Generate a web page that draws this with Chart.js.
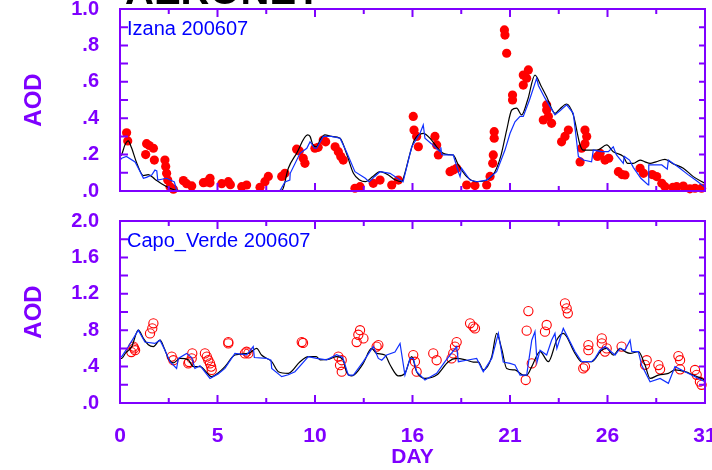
<!DOCTYPE html>
<html>
<head>
<meta charset="utf-8">
<script src="https://cdn.jsdelivr.net/npm/chart.js@4/dist/chart.umd.min.js"></script>
<style>
  html, body { margin: 0; padding: 0; background: #fff; }
  #wrap { position: relative; width: 712px; height: 470px; overflow: hidden; background: #fff; }
  #wrap canvas { position: absolute; left: 0; }
</style>
</head>
<body>
<div id="wrap">
  <canvas id="topChart" width="712" height="205" style="top:0"></canvas>
  <canvas id="bottomChart" width="712" height="265" style="top:205px"></canvas>
</div>
<script>
// tick labels
var xTickLabels = ["0", "5", "10", "16", "21", "26", "31"];
var izanaYTicks = [".0", ".2", ".4", ".6", ".8", "1.0"];
var capoYTicks = [".0", ".4", ".8", "1.2", "1.6", "2.0"];

// Izana 200607 : [day, aod]
var izanaObs = [
  [0.35,0.32],[0.41,0.275],[1.36,0.20],[1.41,0.26],[1.55,0.25],[1.77,0.235],[1.82,0.17],
  [2.38,0.17],[2.42,0.135],[2.47,0.097],[2.53,0.06],[2.65,0.024],[2.83,0.01],[3.36,0.057],
  [3.53,0.04],[3.8,0.028],[4.42,0.046],[4.6,0.05],[4.77,0.07],[4.77,0.045],[5.39,0.04],
  [5.74,0.051],[5.85,0.035],[6.45,0.024],[6.71,0.033],[7.42,0.02],[7.68,0.051],[7.86,0.08],
  [8.57,0.08],[8.74,0.097],[9.36,0.23],[9.5,0.22],[9.71,0.18],[9.8,0.152],[10.33,0.235],
  [10.5,0.24],[10.77,0.28],[10.9,0.27],[11.4,0.243],[11.57,0.216],[11.7,0.19],[11.83,0.17],
  [12.45,0.015],[12.72,0.024],[13.42,0.042],[13.78,0.06],[14.4,0.033],[14.75,0.06],
  [15.54,0.41],[15.58,0.335],[15.72,0.30],[15.81,0.243],[16.69,0.30],[16.78,0.253],[16.87,0.198],
  [17.49,0.106],[17.66,0.115],[17.84,0.125],[18.37,0.033],[18.81,0.03],[19.43,0.033],
  [19.61,0.08],[19.75,0.152],[19.78,0.198],[19.83,0.29],[19.83,0.326],[20.37,0.885],
  [20.4,0.857],[20.49,0.757],[20.8,0.527],[20.8,0.50],[21.37,0.582],[21.37,0.637],[21.55,0.62],
  [21.64,0.665],[22.43,0.39],[22.61,0.445],[22.61,0.473],[22.7,0.41],[22.87,0.372],[23.4,0.27],
  [23.58,0.30],[23.76,0.335],[24.38,0.16],[24.46,0.235],[24.64,0.26],[24.64,0.335],[24.73,0.30],
  [25.3,0.19],[25.44,0.207],[25.7,0.17],[25.9,0.18],[26.41,0.106],[26.6,0.09],[26.76,0.088],
  [27.56,0.125],[27.74,0.097],[28.2,0.09],[28.44,0.079],[28.71,0.042],[28.88,0.024],
  [29.3,0.02],[29.5,0.024],[29.85,0.027],[30.2,0.012],[30.47,0.015],[30.82,0.015]
];
var izanaBlack = [
  [0,0.19],[0.09,0.2],[0.25,0.25],[0.44,0.275],[0.6,0.24],[0.9,0.15],[1.24,0.085],[1.5,0.09],
  [1.85,0.065],[2.2,0.04],[2.65,0.015],[3.0,0.003],[4,0],[6,0],[8.4,0],[8.6,0.005],[8.92,0.125],
  [9.36,0.207],[9.94,0.308],[10.07,0.30],[10.24,0.25],[10.42,0.243],[10.6,0.28],[10.86,0.308],
  [11.2,0.3],[11.66,0.29],[12.0,0.207],[12.37,0.097],[12.7,0.06],[13.0,0.051],[13.4,0.08],
  [13.78,0.106],[14.22,0.088],[14.6,0.06],[14.93,0.051],[15.1,0.1],[15.37,0.207],[15.6,0.28],
  [16.07,0.317],[16.51,0.28],[16.8,0.24],[17.13,0.207],[17.4,0.2],[17.66,0.198],[17.9,0.15],
  [18.37,0.079],[18.9,0.051],[19.43,0.06],[19.87,0.106],[20.2,0.2],[20.49,0.335],[20.76,0.445],
  [21.02,0.455],[21.28,0.418],[21.6,0.5],[21.99,0.637],[22.3,0.58],[22.61,0.518],[23.05,0.427],
  [23.3,0.45],[23.67,0.478],[24.02,0.418],[24.38,0.253],[24.55,0.225],[24.9,0.225],[25.3,0.225],
  [25.79,0.253],[26.14,0.216],[26.67,0.19],[26.9,0.152],[27.2,0.152],[27.56,0.17],[27.82,0.16],
  [28.09,0.152],[28.4,0.16],[28.88,0.174],[29.3,0.15],[29.85,0.125],[30.38,0.079],[31,0.042]
];
var izanaBlue = [
  [0,0.17],[0.09,0.18],[0.34,0.19],[0.8,0.16],[1.0,0.12],[1.24,0.07],[1.4,0.075],[1.68,0.088],
  [1.85,0.115],[1.95,0.11],[2.0,0.06],[2.47,0.07],[2.88,0.05],[3.0,0.005],[3.2,0],[8.4,0],
  [8.5,0.005],[8.74,0.05],[9.0,0.06],[9.02,0.097],[9.54,0.207],[9.9,0.235],[10.07,0.27],
  [10.15,0.26],[10.3,0.235],[10.42,0.235],[10.77,0.3],[11.2,0.3],[11.66,0.29],[12.0,0.216],
  [12.45,0.106],[13.0,0.07],[13.2,0.05],[13.5,0.08],[13.78,0.106],[14.31,0.097],[14.84,0.06],
  [15.0,0.05],[15.46,0.243],[15.9,0.317],[16.07,0.363],[16.16,0.29],[16.5,0.26],[16.96,0.216],
  [17.0,0.24],[17.05,0.2],[17.13,0.198],[17.66,0.198],[17.93,0.106],[18.02,0.079],[18.1,0.125],
  [18.55,0.06],[18.9,0.051],[19.43,0.06],[19.96,0.106],[20.4,0.225],[20.67,0.317],[20.93,0.38],
  [21.2,0.41],[21.37,0.41],[21.7,0.5],[22.08,0.62],[22.17,0.58],[22.52,0.51],[23.05,0.418],
  [23.3,0.44],[23.67,0.473],[24.02,0.427],[24.29,0.19],[24.55,0.17],[24.99,0.16],[25.08,0.225],
  [25.52,0.216],[25.88,0.216],[26.14,0.243],[26.3,0.2],[26.67,0.152],[26.72,0.19],[27.0,0.17],
  [27.2,0.13],[27.6,0.07],[27.99,0.033],[28.02,0.143],[28.71,0.143],[29.0,0.12],[29.06,0.17],
  [29.6,0.13],[30.1,0.09],[30.5,0.06],[31,0.02]
];

// Capo_Verde 200607 : [day, aod]
var capoObs = [
  [0.6,0.56],[0.71,0.62],[0.8,0.58],[0.75,0.6],[1.59,0.765],[1.71,0.82],[1.77,0.876],[2.74,0.51],
  [2.83,0.47],[3.62,0.435],[3.66,0.45],[3.8,0.49],[3.83,0.545],[4.5,0.545],[4.6,0.51],[4.68,0.47],
  [4.77,0.435],[4.83,0.40],[4.86,0.363],[5.74,0.67],[5.74,0.655],[6.62,0.545],[6.71,0.564],
  [6.8,0.545],[9.63,0.67],[9.7,0.66],[11.57,0.51],[11.66,0.416],[11.75,0.47],[11.75,0.344],
  [12.54,0.67],[12.63,0.75],[12.72,0.80],[12.9,0.71],[13.69,0.637],[13.6,0.62],[15.54,0.527],
  [15.63,0.454],[15.72,0.344],[16.6,0.545],[16.78,0.47],[17.57,0.49],[17.66,0.545],[17.75,0.62],
  [17.84,0.67],[18.55,0.876],[18.72,0.84],[18.81,0.82],[21.5,0.253],[21.55,0.795],[21.64,1.01],
  [21.82,0.435],[22.52,0.784],[22.61,0.857],[23.58,1.095],[23.67,1.04],[23.73,0.985],[24.55,0.38],
  [24.64,0.4],[24.82,0.58],[24.82,0.637],[25.53,0.655],[25.53,0.71],[25.7,0.565],[25.79,0.6],
  [26.58,0.62],[27.82,0.42],[27.91,0.47],[28.53,0.417],[28.62,0.37],[29.59,0.516],[29.68,0.47],
  [29.68,0.37],[30.47,0.363],[30.56,0.31],[30.73,0.234],[30.82,0.2]
];
var capoBlack = [
  [0,0.49],[0.09,0.49],[0.3,0.55],[0.62,0.62],[0.97,0.8],[1.24,0.71],[1.5,0.64],[1.77,0.62],
  [2.12,0.69],[2.35,0.6],[2.56,0.49],[2.83,0.44],[3.18,0.49],[3.62,0.475],[3.88,0.4],[4.24,0.4],
  [4.86,0.29],[5.2,0.33],[5.56,0.4],[6.09,0.527],[6.8,0.545],[7.24,0.6],[7.5,0.527],[8.04,0.454],
  [8.39,0.344],[8.92,0.326],[9.54,0.454],[9.98,0.51],[10.4,0.51],[10.6,0.475],[11.04,0.48],
  [11.48,0.51],[11.83,0.47],[12.0,0.344],[12.28,0.297],[12.89,0.435],[13.33,0.6],[13.6,0.545],
  [14.04,0.527],[14.31,0.42],[14.75,0.297],[15.1,0.326],[15.46,0.51],[15.72,0.344],[16.16,0.27],
  [16.78,0.307],[17.4,0.454],[17.84,0.49],[18.37,0.47],[18.72,0.45],[19.0,0.45],[19.25,0.363],
  [19.7,0.51],[19.96,0.765],[20.22,0.6],[20.49,0.38],[20.93,0.363],[21.37,0.307],[21.55,0.307],
  [21.82,0.4],[22.26,0.565],[22.7,0.454],[23.14,0.69],[23.49,0.765],[24.11,0.545],[24.46,0.454],
  [24.99,0.454],[25.52,0.58],[25.79,0.6],[26.14,0.527],[26.5,0.6],[26.76,0.565],[27.03,0.545],
  [27.47,0.564],[27.82,0.417],[28.09,0.27],[28.53,0.307],[29.06,0.326],[29.41,0.363],[29.94,0.344],
  [30.38,0.307],[31,0.253]
];
var capoBlue = [
  [0,0.51],[0.09,0.51],[0.44,0.62],[0.97,0.8],[1.32,0.67],[1.85,0.655],[2.12,0.69],[2.38,0.58],
  [2.65,0.454],[3.0,0.38],[3.09,0.49],[3.53,0.545],[3.8,0.5],[3.97,0.38],[4.24,0.41],[4.77,0.27],
  [5.2,0.32],[5.56,0.38],[6.09,0.545],[6.71,0.53],[7.06,0.62],[7.12,0.5],[7.77,0.49],[8.0,0.47],
  [8.04,0.38],[8.57,0.29],[8.92,0.31],[9.27,0.344],[9.98,0.51],[10.42,0.49],[10.95,0.475],
  [11.48,0.53],[11.8,0.5],[12.1,0.307],[12.37,0.307],[12.89,0.454],[13.42,0.62],[13.69,0.49],
  [13.87,0.47],[14.13,0.527],[14.57,0.56],[14.84,0.655],[15.1,0.307],[15.37,0.49],[15.54,0.49],
  [15.72,0.344],[16.16,0.253],[16.78,0.326],[17.22,0.454],[17.84,0.62],[17.93,0.454],[18.37,0.47],
  [18.9,0.49],[19.25,0.344],[19.7,0.49],[20.05,0.765],[20.31,0.45],[20.67,0.435],[20.93,0.417],
  [21.2,0.307],[21.55,0.307],[21.82,0.69],[21.99,0.784],[22.1,0.45],[22.26,0.58],[22.61,0.527],
  [22.87,0.69],[23.05,0.765],[23.15,0.6],[23.49,0.82],[24.11,0.565],[24.46,0.454],[24.99,0.454],
  [25.17,0.49],[25.43,0.58],[25.7,0.62],[26.23,0.527],[26.5,0.6],[26.76,0.58],[27.03,0.69],
  [27.12,0.565],[27.47,0.565],[27.64,0.417],[28.09,0.234],[28.62,0.27],[29.06,0.216],[29.41,0.4],
  [29.94,0.344],[31,0.234]
];

var purple = "#7f00ff";
var family = "'Liberation Sans', Arial, sans-serif";

// frame + inward ticks, panel label
var framePlugin = {
    id: "frame",
    afterDatasetsDraw: function (chart, args, opts) {
        var ctx = chart.ctx;
        var a = chart.chartArea;
        var xs = chart.scales.x;
        var ys = chart.scales.y;
        ctx.save();
        ctx.strokeStyle = purple;
        ctx.lineWidth = 2;
        ctx.strokeRect(a.left, a.top, a.right - a.left, a.bottom - a.top);
        ctx.beginPath();
        var step = 31 / 6;
        for (var i = 0; i <= 12; i++) {
            var px = xs.getPixelForValue(i * step / 2);
            var len = i % 2 == 0 ? 8 : 5;
            ctx.moveTo(px, a.bottom); ctx.lineTo(px, a.bottom - len);
            ctx.moveTo(px, a.top); ctx.lineTo(px, a.top + len);
        }
        var ymax = ys.max;
        for (var j = 0; j <= 10; j++) {
            var py = ys.getPixelForValue(j * ymax / 10);
            ctx.moveTo(a.left, py); ctx.lineTo(a.left + 8, py);
            ctx.moveTo(a.right, py); ctx.lineTo(a.right - 6, py);
        }
        ctx.stroke();
        ctx.fillStyle = "#0000ff";
        ctx.font = "20px " + family;
        ctx.textBaseline = "alphabetic";
        ctx.fillText(opts.label, a.left + 7, a.top + 26);
        if (opts.title) {
            ctx.fillStyle = "#000";
            ctx.font = "bold 40px " + family;
            ctx.fillText(opts.title, 125, 4);
        }
        ctx.restore();
    }
};

function makeChart(id, obs, black, blue, yLabels, yMax, filled, label, title, bottomAxis) {
    var ctx = document.getElementById(id).getContext("2d");
    return new Chart(ctx, {
        type: "scatter",
        data: {
            datasets: [{
                data: blue,
                showLine: true,
                borderColor: "#1030ff",
                borderWidth: 1.2,
                pointRadius: 0,
                tension: 0
            }, {
                data: black,
                showLine: true,
                borderColor: "#000000",
                borderWidth: 1.2,
                pointRadius: 0,
                cubicInterpolationMode: "monotone"
            }, {
                data: obs,
                showLine: false,
                pointRadius: filled ? 4.6 : 4.6,
                pointBackgroundColor: filled ? "#ff0000" : "rgba(0,0,0,0)",
                pointBorderColor: "#ff0000",
                pointBorderWidth: filled ? 0 : 1.1,
                clip: false
            }]
        },
        options: {
            responsive: false,
            animation: false,
            events: [],
            layout: {
                padding: bottomAxis ? { left: 0, top: 16, right: 7, bottom: 0 } : { left: 0, top: 9, right: 7, bottom: 14 }
            },
            scales: {
                x: {
                    type: "linear",
                    display: bottomAxis,
                    min: 0,
                    max: 31,
                    afterBuildTicks: function (s) {
                        s.ticks = xTickLabels.map(function (t, i) { return { value: i * 31 / 6 }; });
                    },
                    afterFit: function (s) {
                        s.height = bottomAxis ? 67 : 0;
                        s.paddingLeft = 0;
                        s.paddingRight = 0;
                    },
                    grid: { display: false, drawTicks: false },
                    border: { display: false },
                    ticks: {
                        color: purple,
                        padding: 21,
                        maxRotation: 0,
                        autoSkip: false,
                        font: { family: family, size: 21, weight: "bold" },
                        callback: function (v, i) { return xTickLabels[i]; }
                    },
                    title: {
                        display: true,
                        text: "DAY",
                        color: purple,
                        padding: { top: 0, bottom: 0 },
                        font: { family: family, size: 21, weight: "bold" }
                    }
                },
                y: {
                    type: "linear",
                    min: 0,
                    max: yMax,
                    afterBuildTicks: function (s) {
                        s.ticks = yLabels.map(function (t) { return { value: parseFloat(t) }; });
                    },
                    afterFit: function (s) {
                        s.width = 120;
                        s.paddingTop = 0;
                        s.paddingBottom = 0;
                    },
                    grid: { display: false, drawTicks: false },
                    border: { display: false },
                    ticks: {
                        color: purple,
                        padding: 21,
                        font: { family: family, size: 20, weight: "bold" },
                        callback: function (v, i) { return yLabels[i]; }
                    },
                    title: {
                        display: true,
                        text: "AOD",
                        color: purple,
                        padding: { top: 20, bottom: 0 },
                        font: { family: family, size: 24, weight: "bold" }
                    }
                }
            },
            plugins: {
                legend: { display: false },
                tooltip: { enabled: false },
                frame: { label: label, title: title }
            }
        },
        plugins: [framePlugin]
    });
}

makeChart("topChart", izanaObs, izanaBlack, izanaBlue, izanaYTicks, 1.0, true, "Izana 200607", "AERONET", false);
makeChart("bottomChart", capoObs, capoBlack, capoBlue, capoYTicks, 2.0, false, "Capo_Verde 200607", null, true);
</script>
</body>
</html>
